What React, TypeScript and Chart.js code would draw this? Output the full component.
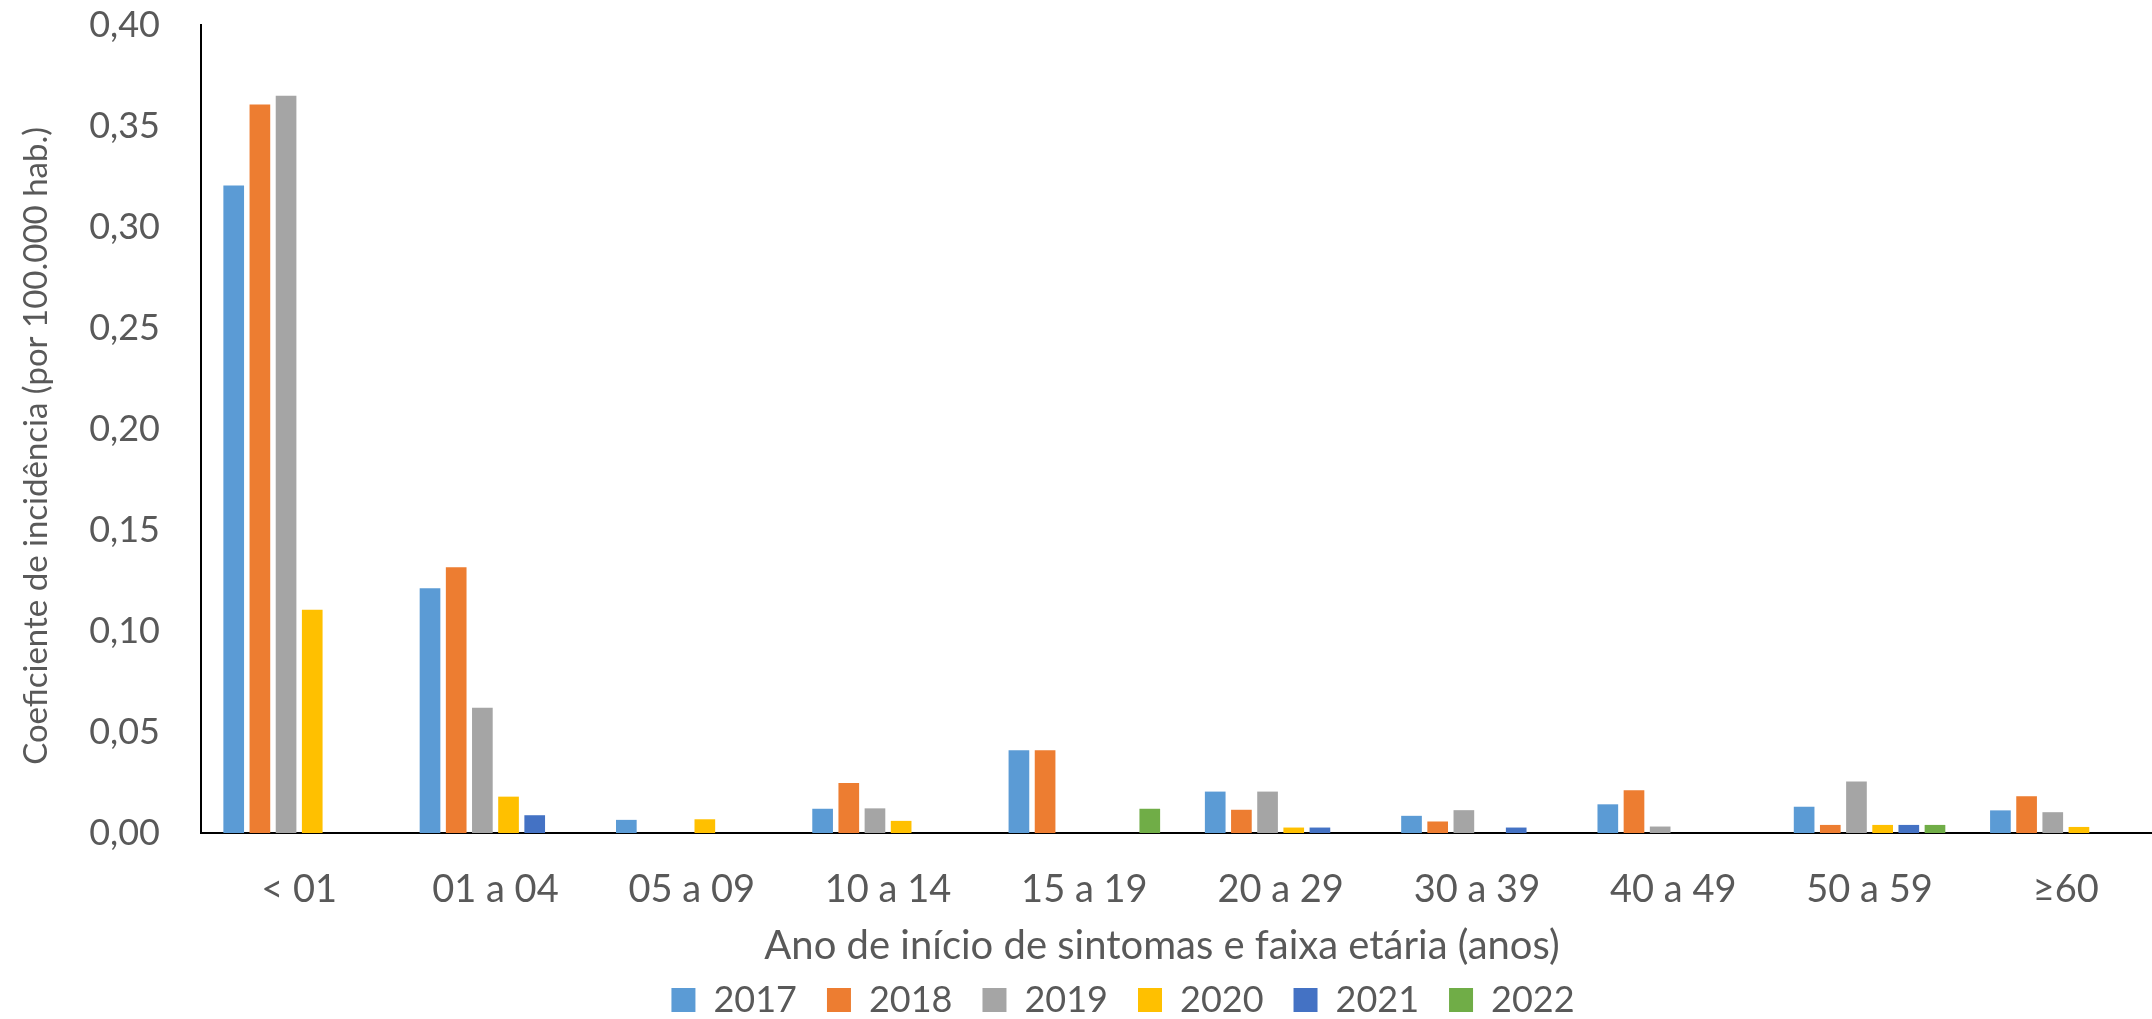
import React, { useEffect, useRef } from "react";
import { Chart, registerables } from "chart.js";

Chart.register(...registerables);

const categories = ["< 01", "01 a 04", "05 a 09", "10 a 14", "15 a 19", "20 a 29", "30 a 39", "40 a 49", "50 a 59", "≥60"];
const seriesNames = ["2017", "2018", "2019", "2020", "2021", "2022"];
const seriesColors = ["#5B9BD5", "#ED7D31", "#A5A5A5", "#FFC000", "#4472C4", "#70AD47"];

const v2017 = [0.3205, 0.1212, 0.0065, 0.012, 0.041, 0.0205, 0.0085, 0.0142, 0.013, 0.0112];
const v2018 = [0.3607, 0.1315, null, 0.0247, 0.041, 0.0115, 0.0057, 0.0212, 0.004, 0.0182];
const v2019 = [0.365, 0.062, null, 0.0122, null, 0.0205, 0.0113, 0.0032, 0.0255, 0.0103];
const v2020 = [0.1105, 0.018, 0.0068, 0.006, null, 0.0027, null, null, 0.004, 0.003];
const v2021 = [null, 0.0088, null, null, null, 0.0027, 0.0027, null, 0.004, null];
const v2022 = [null, null, null, null, 0.012, null, null, null, 0.004, null];

const seriesValues = [v2017, v2018, v2019, v2020, v2021, v2022];

const yTickMin = 0;
const yTickMax = 0.4;
const yTickStep = 0.05;

const yTitle = "Coeficiente de incidência (por 100.000 hab.)";
const xTitle = "Ano de início de sintomas e faixa etária (anos)";

const TEXT = "#595959";
const FONT = "Lato";
const LEGEND_SHIFT = 37;

const legendShift = {
  id: "legendShift",
  afterLayout(chart: any) {
    const lg = chart.legend;
    if (lg) {
      lg.left += LEGEND_SHIFT;
      lg.right += LEGEND_SHIFT;
    }
  },
};

export default function App() {
  const canvasRef = useRef<HTMLCanvasElement | null>(null);

  useEffect(() => {
    document.body.style.margin = "0";
    const canvas = canvasRef.current;
    if (!canvas) return;
    const chart = new Chart(canvas, {
      type: "bar",
      data: {
        labels: categories,
        datasets: seriesNames.map((name, i) => ({
          label: name,
          data: seriesValues[i],
          backgroundColor: seriesColors[i],
          borderWidth: 0,
          categoryPercentage: 0.8,
          barPercentage: 0.79,
        })),
      },
      plugins: [legendShift],
      options: {
        animation: false,
        responsive: false,
        devicePixelRatio: 1,
        layout: { padding: { left: 8, right: 76, top: 25, bottom: 0 } },
        plugins: {
          tooltip: { enabled: false },
          legend: {
            position: "bottom",
            labels: {
              color: TEXT,
              font: { family: FONT, size: 36 },
              boxWidth: 24,
              boxHeight: 24,
              padding: 30,
            },
          },
        },
        scales: {
          x: {
            grid: { display: false, drawTicks: false, tickLength: 0 },
            border: { display: true, color: "#000000", width: 2 },
            ticks: {
              color: TEXT,
              font: { family: FONT, size: 38 },
              padding: 34,
              maxRotation: 0,
              autoSkip: false,
            },
            title: {
              display: true,
              text: xTitle + "    ",
              color: TEXT,
              font: { family: FONT, size: 40 },
              padding: { top: 14, bottom: -18 },
            },
            afterFit: (scale: any) => {
              scale.height = 119;
              scale.paddingLeft = 0;
              scale.paddingRight = 0;
              scale.paddingTop = 0;
              scale.paddingBottom = 0;
            },
          },
          y: {
            min: yTickMin,
            max: yTickMax,
            grid: { display: false, drawTicks: false, tickLength: 0 },
            border: { display: true, color: "#000000", width: 2 },
            ticks: {
              stepSize: yTickStep,
              color: TEXT,
              font: { family: FONT, size: 36 },
              padding: 41,
              callback: (v: any) => Number(v).toFixed(2).replace(".", ","),
            },
            title: {
              display: true,
              text: yTitle + "    ",
              color: TEXT,
              font: { family: FONT, size: 33 },
              padding: { top: 9, bottom: 0 },
            },
            afterFit: (scale: any) => {
              scale.width = 193;
              scale.paddingTop = 0;
              scale.paddingBottom = 0;
              scale.paddingLeft = 0;
              scale.paddingRight = 0;
            },
          },
        },
      },
    });
    return () => chart.destroy();
  }, []);

  return (
    <div style={{ width: 2152, height: 1019, overflow: "hidden", position: "relative", background: "#ffffff" }}>
      <canvas ref={canvasRef} width={2240} height={1028} style={{ width: 2240, height: 1028, display: "block" }} />
    </div>
  );
}
